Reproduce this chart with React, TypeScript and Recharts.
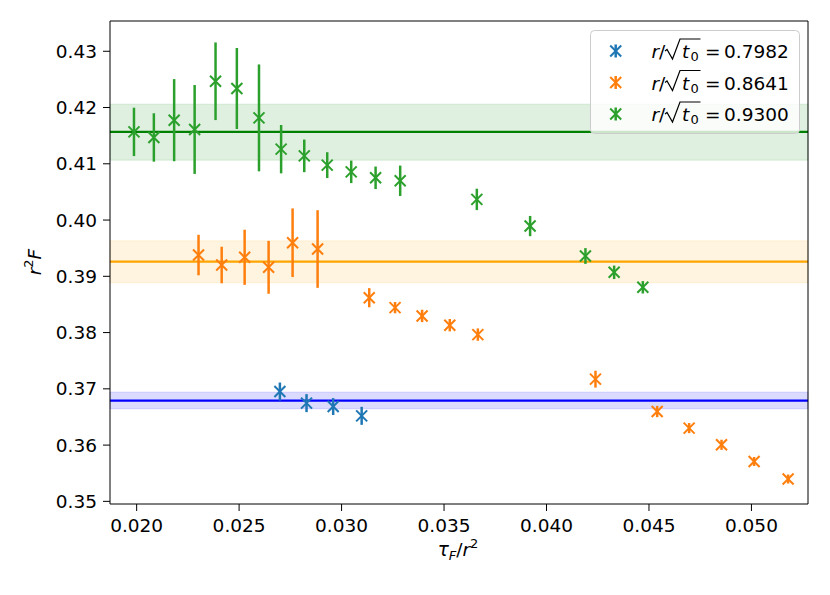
import {ErrorBar, ReferenceArea, ReferenceLine, Scatter, ScatterChart, XAxis, YAxis} from 'recharts';

const FONT = '"DejaVu Sans", sans-serif';

const X_MIN = 0.0187;
const X_MAX = 0.05276;
const Y_MIN = 0.34953;
const Y_MAX = 0.43538;

const xTicks = [0.02, 0.025, 0.03, 0.035, 0.04, 0.045, 0.05];
const yTicks = [0.35, 0.36, 0.37, 0.38, 0.39, 0.4, 0.41, 0.42, 0.43];

const blueX = [0.02699, 0.02829, 0.02959, 0.03098];
const blueY = [0.36952, 0.36746, 0.36685, 0.3652];
const blueErr = [0.0016, 0.0016, 0.0015, 0.0016];

const orangeX = [0.02302, 0.02415, 0.02527, 0.02644, 0.02761, 0.02883, 0.03135, 0.03261, 0.03393,
    0.03528, 0.03665, 0.04239, 0.0454, 0.04696, 0.04854, 0.05013, 0.05179];
const orangeY = [0.39378, 0.39201, 0.39338, 0.3916, 0.39597, 0.39485, 0.3862, 0.38443, 0.38296,
    0.38131, 0.37964, 0.37172, 0.36597, 0.36302, 0.36005, 0.35709, 0.35397];
const orangeErr = [0.0036, 0.00325, 0.0049, 0.0047, 0.0061, 0.0069, 0.0017, 0.001, 0.0011,
    0.0011, 0.0011, 0.0015, 0.001, 0.0009, 0.0009, 0.0008, 0.0008];

const greenX = [0.01987, 0.02084, 0.02183, 0.02283, 0.02385, 0.02489, 0.02597, 0.02705, 0.02818,
    0.0293, 0.03047, 0.03166, 0.03286, 0.0366, 0.0392, 0.0419, 0.0433, 0.0447];
const greenY = [0.41567, 0.41468, 0.41775, 0.4161, 0.42467, 0.42338, 0.41816, 0.4126, 0.41141,
    0.40976, 0.40857, 0.40751, 0.40698, 0.40367, 0.39893, 0.39361, 0.39071, 0.38805];
const greenErr = [0.0043, 0.0043, 0.0073, 0.0079, 0.0069, 0.0072, 0.0095, 0.0043, 0.0029,
    0.0023, 0.002, 0.002, 0.0027, 0.0019, 0.0018, 0.0014, 0.0012, 0.0011];

// fit bands: [low, mean, high]
const blueFit = [0.36645, 0.36792, 0.36941];
const orangeFit = [0.38885, 0.3926, 0.3963];
const greenFit = [0.41065, 0.41567, 0.42059];

const legendValues = ['0.7982', '0.8641', '0.9300'];

const COLORS = ['#1f77b4', '#ff7f0e', '#2ca02c'];

const toRows = (xs: number[], ys: number[], errs: number[]) =>
    xs.map((x, i) => ({x, y: ys[i], err: errs[i]}));

const series = [
    {data: toRows(blueX, blueY, blueErr), color: COLORS[0]},
    {data: toRows(orangeX, orangeY, orangeErr), color: COLORS[1]},
    {data: toRows(greenX, greenY, greenErr), color: COLORS[2]},
];

const fits = [
    {v: blueFit, line: '#0000ff', alpha: 0.14},
    {v: orangeFit, line: '#ffa500', alpha: 0.12},
    {v: greenFit, line: '#008000', alpha: 0.12},
];

function XMark({cx, cy, color}: {cx: number; cy: number; color: string}) {
    const s = 5.5;
    return (
        <g stroke={color} strokeWidth={2}>
            <line x1={cx - s} y1={cy - s} x2={cx + s} y2={cy + s}/>
            <line x1={cx - s} y1={cy + s} x2={cx + s} y2={cy - s}/>
        </g>
    );
}

function LegendRow({y, color, value}: {y: number; color: string; value: string}) {
    const b = y + 7;
    return (
        <g>
            <line x1={25.7} x2={25.7} y1={y - 6.5} y2={y + 6.5} stroke={color} strokeWidth={2.5}/>
            <XMark cx={25.7} cy={y} color={color}/>
            <text x={61.5} y={b} fontSize={18.5} fontFamily={FONT} fontStyle="italic">r</text>
            <text x={69} y={b} fontSize={18.5} fontFamily={FONT}>/</text>
            <path d={`M 75 ${b - 7} L 77 ${b - 8.5} L 82.5 ${b + 1} L 90 ${b - 19} L 110.5 ${b - 19}`}
                  fill="none" stroke="#000" strokeWidth={1.2}/>
            <text x={92} y={b} fontSize={18.5} fontFamily={FONT} fontStyle="italic">t</text>
            <text x={100.5} y={b + 3} fontSize={13} fontFamily={FONT}>0</text>
            <text x={115} y={b} fontSize={18.5} fontFamily={FONT}>=</text>
            <text x={134} y={b} fontSize={18.5} fontFamily={FONT}>{value}</text>
        </g>
    );
}

export default function App() {
    return (
        <div style={{position: 'absolute', left: 0, top: 0, width: 830, height: 595, background: '#fff'}}>
            <ScatterChart width={830} height={595} margin={{top: 21, right: 22, bottom: 31, left: 0}}>
                <XAxis type="number" dataKey="x" domain={[X_MIN, X_MAX]} ticks={xTicks} allowDataOverflow
                       tickFormatter={(v: number) => v.toFixed(3)} height={60} tickSize={7} tickMargin={8}
                       stroke="#000" tick={{fill: '#000', fontSize: 18.5, fontFamily: FONT}}/>
                <YAxis type="number" dataKey="y" domain={[Y_MIN, Y_MAX]} ticks={yTicks} allowDataOverflow
                       tickFormatter={(v: number) => v.toFixed(2)} width={110} tickSize={7} tickMargin={6}
                       stroke="#000" tick={{fill: '#000', fontSize: 18.5, fontFamily: FONT}}/>
                {fits.map((f, i) => (
                    <ReferenceArea key={'a' + i} y1={f.v[0]} y2={f.v[2]} fill={f.line} fillOpacity={f.alpha}
                                   stroke={f.line} strokeOpacity={f.alpha}/>
                ))}
                {fits.map((f, i) => (
                    <ReferenceLine key={'l' + i} y={f.v[1]} stroke={f.line} strokeWidth={2.3}/>
                ))}
                <ReferenceLine y={Y_MAX} stroke="#000" strokeWidth={1}/>
                <ReferenceLine x={X_MAX} stroke="#000" strokeWidth={1}/>
                {series.map((s, i) => (
                    <Scatter key={i} data={s.data} fill={s.color} isAnimationActive={false}
                             shape={(p: any) => <XMark cx={p.cx} cy={p.cy} color={s.color}/>}>
                        <ErrorBar dataKey="err" direction="y" width={0} strokeWidth={2.5} stroke={s.color}
                                  isAnimationActive={false}/>
                    </Scatter>
                ))}
            </ScatterChart>
            <svg width={830} height={595} style={{position: 'absolute', left: 0, top: 0, pointerEvents: 'none'}}>
                <text x={458} y={556} textAnchor="middle" fontSize={18.5} fontFamily={FONT}>
                    <tspan fontStyle="italic">τ</tspan>
                    <tspan fontStyle="italic" fontSize={13} dy={4}>F</tspan>
                    <tspan dy={-4}>/</tspan>
                    <tspan fontStyle="italic">r</tspan>
                    <tspan fontSize={13} dy={-8}>2</tspan>
                </text>
                <text transform="translate(41, 262) rotate(-90)" textAnchor="middle" fontSize={18.5} fontFamily={FONT}>
                    <tspan fontStyle="italic">r</tspan>
                    <tspan fontSize={13} dy={-8}>2</tspan>
                    <tspan fontStyle="italic" dy={8}>F</tspan>
                </text>
                <g transform="translate(590, 30)">
                    <rect x={0.5} y={0.5} width={209} height={103} rx={4} fill="#fff" fillOpacity={0.8}
                          stroke="#cccccc"/>
                    {legendValues.map((v, i) => (
                        <LegendRow key={i} y={21 + i * 31.5} color={COLORS[i]} value={v}/>
                    ))}
                </g>
            </svg>
        </div>
    );
}
